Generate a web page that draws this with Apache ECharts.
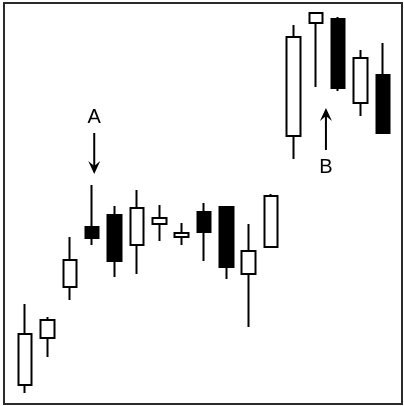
<!DOCTYPE html>
<html>
<head>
<meta charset="utf-8">
<script src="https://cdn.jsdelivr.net/npm/echarts@6/dist/echarts.min.js"></script>
<style>
html,body{margin:0;padding:0;background:#fff;}
#chart{width:404px;height:406px;}
</style>
</head>
<body>
<div id="chart"></div>
<script>
// Session index (no labels shown in the reference)
var categories = ['1','2','3','4','5','6','7','8','9','10','11','12','13','14','15','16','17'];
// Prices (arbitrary units)
var opens  = [4.75, 16.5, 29.25, 44.25, 47.25, 39.75, 45,    41.75, 48,    49.25, 32.5,  39.25, 67,    95.25, 96.25, 75.25, 82.25];
var closes = [17.5, 21,   36,    41.5,  35.75, 49,    46.5,  42.75, 43,    34.25, 38.25, 52,    91.75, 97.75, 79,    86.5,  67.75];
var lows   = [2.75, 11.75,26,    39.75, 31.75, 32.5,  40.75, 39.75, 35.75, 31.25, 19.25, 39.25, 61.25, 79.25, 78.25, 72,    67.75];
var highs  = [25,   21.75,41.75, 54.75, 49.5,  53.5,  49.75, 45.25, 50.25, 49.25, 45,    52.5,  94.75, 98,    96.75, 88.5,  90.25];
// Annotations: label, anchor candle index, arrow direction
var annLabels = ['A', 'B'];
var annIndex  = [3, 13.5];
var annDir    = ['down', 'up'];

var candleData = categories.map(function (c, i) {
  return [opens[i], closes[i], lows[i], highs[i]];
});

var chart = echarts.init(document.getElementById('chart'));
chart.setOption({
  animation: false,
  backgroundColor: '#fff',
  grid: { left: 14, right: 10, top: 4, bottom: 2 },
  xAxis: {
    type: 'category', data: categories, boundaryGap: true,
    axisLine: { show: false }, axisTick: { show: false }, axisLabel: { show: false }, splitLine: { show: false }
  },
  yAxis: {
    type: 'value', min: 0, max: 100,
    axisLine: { show: false }, axisTick: { show: false }, axisLabel: { show: false }, splitLine: { show: false }
  },
  series: [{
    type: 'candlestick',
    data: candleData,
    barWidth: 14,
    itemStyle: {
      color: '#ffffff', color0: '#000000',
      borderColor: '#000000', borderColor0: '#000000',
      borderWidth: 2
    }
  }]
});

function px(idx, val) {
  var lo = chart.convertToPixel({ xAxisIndex: 0, yAxisIndex: 0 }, [Math.floor(idx), val]);
  if (idx % 1 !== 0) {
    var hi = chart.convertToPixel({ xAxisIndex: 0, yAxisIndex: 0 }, [Math.ceil(idx), val]);
    lo[0] = lo[0] + (hi[0] - lo[0]) * (idx % 1);
  }
  return lo;
}

var graphics = [{
  type: 'rect', silent: true,
  shape: { x: 4, y: 3, width: 398, height: 401 },
  style: { fill: null, stroke: '#2a2a2a', lineWidth: 2 }
}];

annLabels.forEach(function (lab, k) {
  var idx = annIndex[k];
  var i0 = Math.floor(idx), i1 = Math.ceil(idx);
  var x, tipY, tailY, textY, s;
  if (annDir[k] === 'down') {
    var top = px(idx, highs[i0]);
    s = 1;
    x = top[0] + 2;
    tipY = top[1] - 11;
    tailY = tipY - 41;
    textY = tailY - 16;
  } else {
    var low = Math.min(lows[i0], lows[i1]);
    var p = px(idx, low);
    s = -1;
    x = p[0] - 1;
    tipY = p[1] + 17;
    tailY = tipY + 42;
    textY = tailY + 17;
  }
  graphics.push({
    type: 'line', silent: true,
    shape: { x1: x, y1: tailY, x2: x, y2: tipY - s * 8 },
    style: { stroke: '#000', lineWidth: 2 }
  });
  graphics.push({
    type: 'polygon', silent: true,
    shape: { points: [[x, tipY], [x - 6, tipY - s * 13], [x, tipY - s * 8], [x + 6, tipY - s * 13]] },
    style: { fill: '#000' }
  });
  graphics.push({
    type: 'text', silent: true,
    x: x, y: textY,
    style: { text: lab, fill: '#000', fontSize: 20, fontFamily: 'Liberation Sans', align: 'center', verticalAlign: 'middle' }
  });
});

chart.setOption({ graphic: graphics });
</script>
</body>
</html>
